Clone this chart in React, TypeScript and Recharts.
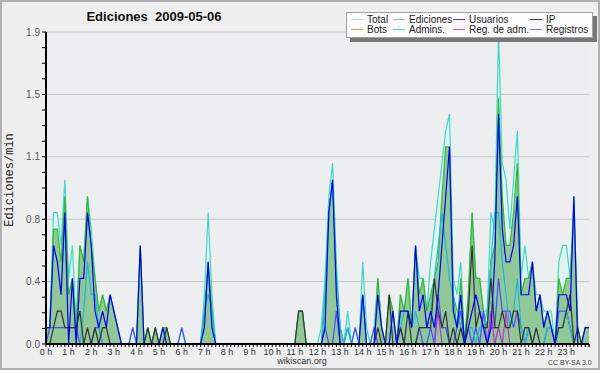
import React from 'react';
import { ComposedChart, Area, Line, XAxis, YAxis, CartesianGrid } from 'recharts';

// 10-minute bins, value = edits per minute
const TOTAL = [
  0.1, 0.1, 0.8, 0.8, 0.6, 1.0,
  0.4, 0.6, 0.1, 0.6, 0.5, 0.9,
  0.7, 0.4, 0.2, 0.3, 0.2, 0.3,
  0.2, 0.1, 0, 0, 0, 0.1,
  0, 0.6, 0, 0.1, 0, 0.1,
  0, 0.1, 0.1, 0, 0, 0,
  0.1, 0, 0, 0, 0, 0,
  0.3, 0.8, 0.3, 0, 0, 0,
  0, 0, 0, 0, 0, 0,
  0, 0, 0, 0, 0, 0,
  0, 0, 0, 0, 0, 0,
  0, 0.2, 0.2, 0, 0, 0,
  0, 0.1, 0.4, 0.9, 1.1, 0.5,
  0.1, 0, 0.2, 0, 0.1, 0,
  0.5, 0.1, 0, 0.1, 0.4, 0.1,
  0, 0.3, 0.2, 0, 0.3, 0.2,
  0.4, 0.1, 0.6, 0.4, 0.4, 0.2,
  0.5, 0.7, 0.9, 1.1, 1.3, 1.4,
  0.4, 0.3, 0.5, 0, 0.3, 0.8,
  0.4, 0.4, 0.2, 0.2, 0.8, 0.7,
  1.9, 1.1, 1.0, 0.7, 1.0, 1.3,
  0.4, 0.6, 0.4, 0.5, 0.3, 0.3,
  0.2, 0.2, 0.2, 0, 0.5, 0.6,
  0.6, 0.4, 0.9, 0.1, 0, 0.1,
  0.1,
];
const EDICIONES = [
  0.1, 0.1, 0.7, 0.7, 0.5, 0.9,
  0.3, 0.4, 0.1, 0.6, 0.5, 0.9,
  0.6, 0.4, 0.2, 0.3, 0.2, 0.3,
  0.2, 0.1, 0, 0, 0, 0,
  0, 0.6, 0, 0.1, 0, 0.1,
  0, 0.1, 0.1, 0, 0, 0,
  0, 0, 0, 0, 0, 0,
  0.2, 0.5, 0.2, 0, 0, 0,
  0, 0, 0, 0, 0, 0,
  0, 0, 0, 0, 0, 0,
  0, 0, 0, 0, 0, 0,
  0, 0.2, 0.2, 0, 0, 0,
  0, 0, 0.3, 0.8, 1.0, 0.4,
  0.1, 0, 0, 0, 0, 0,
  0.3, 0, 0, 0, 0.4, 0.1,
  0, 0.3, 0.2, 0, 0.3, 0.2,
  0.4, 0.1, 0.6, 0.3, 0.4, 0.2,
  0.3, 0.4, 0.5, 0.9, 1.2, 1.2,
  0.3, 0.1, 0.4, 0, 0.3, 0.8,
  0.4, 0.4, 0.2, 0.1, 0.5, 0.6,
  1.5, 0.9, 0.6, 0.6, 0.8, 1.1,
  0.3, 0.4, 0.4, 0.5, 0.2, 0.3,
  0.1, 0.2, 0.1, 0, 0.4, 0.3,
  0.4, 0.4, 0.8, 0.1, 0, 0.1,
  0.1,
];
const USUARIOS = [
  0.1, 0.1, 0.6, 0.5, 0.3, 0.8,
  0, 0.4, 0, 0.4, 0.4, 0.8,
  0.6, 0.2, 0.1, 0.2, 0.1, 0.3,
  0.2, 0.1, 0, 0, 0, 0,
  0, 0.6, 0, 0, 0, 0,
  0, 0.1, 0, 0, 0, 0,
  0, 0, 0, 0, 0, 0,
  0.1, 0.5, 0.1, 0, 0, 0,
  0, 0, 0, 0, 0, 0,
  0, 0, 0, 0, 0, 0,
  0, 0, 0, 0, 0, 0,
  0, 0, 0, 0, 0, 0,
  0, 0, 0.1, 0.8, 1.0, 0.3,
  0, 0, 0, 0, 0, 0,
  0.3, 0, 0, 0, 0.3, 0.1,
  0, 0, 0.2, 0, 0.2, 0.2,
  0.2, 0.1, 0.6, 0.2, 0.3, 0.1,
  0.2, 0.1, 0.3, 0.6, 0.9, 1.2,
  0.2, 0.1, 0.3, 0, 0.1, 0.2,
  0.3, 0.2, 0.1, 0, 0.1, 0.5,
  1.4, 0.7, 0.5, 0.5, 0.6, 0.9,
  0.3, 0.3, 0.3, 0.5, 0.2, 0.3,
  0.1, 0.2, 0.1, 0, 0.3, 0.3,
  0.3, 0.2, 0.9, 0, 0, 0.1,
  0.1,
];
const IP = [
  0, 0, 0.1, 0.2, 0.2, 0.1,
  0.1, 0.1, 0.1, 0.2, 0, 0.1,
  0, 0.1, 0, 0.1, 0.1, 0,
  0, 0, 0, 0, 0, 0,
  0, 0, 0, 0.1, 0, 0.1,
  0, 0, 0.1, 0, 0, 0,
  0, 0, 0, 0, 0, 0,
  0, 0, 0, 0, 0, 0,
  0, 0, 0, 0, 0, 0,
  0, 0, 0, 0, 0, 0,
  0, 0, 0, 0, 0, 0,
  0, 0.2, 0.2, 0, 0, 0,
  0, 0, 0, 0, 0, 0,
  0, 0, 0, 0, 0, 0,
  0, 0, 0, 0, 0.1, 0,
  0, 0.3, 0, 0, 0.1, 0,
  0.2, 0, 0, 0.1, 0.1, 0.1,
  0.1, 0.4, 0.2, 0.1, 0.2, 0,
  0.1, 0, 0.1, 0, 0.2, 0.6,
  0.1, 0.2, 0.1, 0.1, 0.4, 0.1,
  0.1, 0.2, 0.1, 0.1, 0.2, 0.2,
  0, 0.1, 0.1, 0, 0.1, 0,
  0, 0, 0, 0, 0.1, 0.1,
  0.2, 0.3, 0, 0.1, 0, 0,
  0,
];
const ADMINS = [
  0, 0, 0, 0, 0, 0,
  0, 0, 0, 0, 0.2, 0.5,
  0.3, 0.3, 0.1, 0, 0, 0,
  0, 0, 0, 0, 0, 0,
  0, 0, 0, 0, 0, 0,
  0, 0, 0, 0, 0, 0,
  0, 0, 0, 0, 0, 0,
  0.2, 0.3, 0.2, 0, 0, 0,
  0, 0, 0, 0, 0, 0,
  0, 0, 0, 0, 0, 0,
  0, 0, 0, 0, 0, 0,
  0, 0, 0, 0, 0, 0,
  0, 0, 0.3, 0.8, 1.0, 0.4,
  0.1, 0, 0.1, 0, 0, 0,
  0.3, 0, 0, 0, 0, 0,
  0, 0, 0, 0, 0.1, 0.2,
  0.2, 0.1, 0.2, 0.1, 0.1, 0.1,
  0.2, 0.4, 0.6, 0.8, 0.6, 0.4,
  0.3, 0.2, 0.1, 0, 0.1, 0.1,
  0, 0.1, 0.1, 0.2, 0.5, 0.8,
  0.8, 0.5, 0.3, 0.1, 0.2, 0.4,
  0.1, 0, 0.1, 0, 0, 0,
  0, 0.1, 0.1, 0, 0.1, 0.1,
  0.2, 0.1, 0, 0, 0, 0,
  0,
];
const REGISTROS = [
  0, 0.1, 0.1, 0.1, 0.1, 0.1,
  0.1, 0.1, 0.1, 0, 0, 0,
  0, 0.1, 0.1, 0, 0, 0,
  0, 0, 0, 0, 0, 0.1,
  0, 0, 0, 0, 0, 0,
  0, 0, 0, 0, 0, 0,
  0.1, 0, 0, 0, 0, 0,
  0, 0, 0, 0, 0, 0,
  0, 0, 0, 0, 0, 0,
  0, 0, 0, 0, 0, 0,
  0, 0, 0, 0, 0, 0,
  0, 0, 0, 0, 0, 0,
  0, 0, 0.1, 0, 0, 0.2,
  0, 0, 0.1, 0, 0.1, 0,
  0, 0, 0, 0.1, 0, 0,
  0, 0, 0, 0, 0.1, 0,
  0, 0, 0, 0.1, 0, 0,
  0.1, 0, 0.3, 0.1, 0.1, 0,
  0, 0.1, 0.2, 0, 0.1, 0,
  0.1, 0, 0.2, 0, 0.1, 0.1,
  0.4, 0.2, 0.2, 0.2, 0.1, 0.2,
  0.1, 0, 0.1, 0, 0, 0,
  0, 0.1, 0.1, 0, 0.2, 0.2,
  0.2, 0.1, 0, 0, 0, 0,
  0,
];
const REG_ADM = [
  0, 0, 0, 0, 0, 0,
  0, 0, 0, 0, 0, 0,
  0, 0, 0, 0, 0, 0,
  0, 0, 0, 0, 0, 0,
  0, 0, 0, 0, 0, 0,
  0, 0, 0, 0, 0, 0,
  0, 0, 0, 0, 0, 0,
  0, 0, 0, 0, 0, 0,
  0, 0, 0, 0, 0, 0,
  0, 0, 0, 0, 0, 0,
  0, 0, 0, 0, 0, 0,
  0, 0, 0, 0, 0, 0,
  0, 0, 0, 0, 0, 0,
  0, 0, 0, 0, 0, 0,
  0, 0, 0, 0, 0, 0,
  0, 0, 0, 0, 0, 0,
  0, 0, 0, 0, 0, 0,
  0, 0, 0.2, 0, 0, 0,
  0, 0, 0, 0, 0, 0,
  0, 0, 0, 0, 0.2, 0,
  0.1, 0, 0.2, 0, 0, 0,
  0, 0, 0, 0, 0, 0,
  0, 0, 0, 0, 0, 0,
  0, 0, 0, 0, 0, 0,
  0,
];

const HOUR_LABELS = [
  '0 h', '1 h', '2 h', '3 h', '4 h', '5 h', '6 h', '7 h', '8 h', '9 h', '10 h', '11 h',
  '12 h', '13 h', '14 h', '15 h', '16 h', '17 h', '18 h', '19 h', '20 h', '21 h', '22 h', '23 h',
];
const Y_MAX = 1.9;
const Y_STEP = 0.095;
const GRID_VALUES = [0.38, 0.76, 1.14, 1.52, 1.9];

const LEGEND = [
  { name: 'Total', color: '#aee8e0', col: 0, row: 0 },
  { name: 'Bots', color: '#f0a040', col: 0, row: 1 },
  { name: 'Ediciones', color: '#86d086', col: 1, row: 0 },
  { name: 'Admins.', color: '#50c8e0', col: 1, row: 1 },
  { name: 'Usuarios', color: '#4040e0', col: 2, row: 0 },
  { name: 'Reg. de adm.', color: '#d050e0', col: 2, row: 1 },
  { name: 'IP', color: '#404040', col: 3, row: 0 },
  { name: 'Registros', color: '#7878f0', col: 3, row: 1 },
];
const LEGEND_COLS = [4, 46, 106, 183];

const data = TOTAL.map((t, i) => ({
  i,
  total: t,
  ediciones: EDICIONES[i],
  usuarios: USUARIOS[i],
  ip: IP[i],
  admins: ADMINS[i],
  registros: REGISTROS[i],
  regadm: REG_ADM[i],
}));

const xTicks = TOTAL.map((_, i) => i);
const yTicks = Array.from({ length: 21 }, (_, k) => Math.round(k * Y_STEP * 1000) / 1000);

const FONT = '"Liberation Sans", Arial, sans-serif';

export default function App() {
  return (
    <div
      style={{
        position: 'absolute',
        left: 0,
        top: 0,
        width: 600,
        height: 370,
        boxSizing: 'border-box',
        border: '2px solid #b0b0b0',
        background: '#efefef',
        fontFamily: FONT,
      }}
    >
      <div style={{ position: 'absolute', left: -2, top: -2 }}>
        <ComposedChart
          width={600}
          height={370}
          data={data}
          margin={{ top: 32, right: 11, left: 0, bottom: 0 }}
        >
          <CartesianGrid
            fill="#eceef0"
            stroke="#c8c8c8"
            vertical={false}
            horizontalValues={GRID_VALUES}
          />
          <Area
            type="linear"
            dataKey="total"
            stroke="#3fd8c8"
            strokeWidth={1.2}
            fill="#dff4f0"
            fillOpacity={1}
            dot={false}
            activeDot={false}
            isAnimationActive={false}
          />
          <Area
            type="linear"
            dataKey="ediciones"
            stroke="#33b833"
            strokeWidth={1.2}
            fill="#90c898"
            fillOpacity={1}
            dot={false}
            activeDot={false}
            isAnimationActive={false}
          />
          <Line type="linear" dataKey="registros" stroke="#4a4aff" strokeWidth={1.2} dot={false} activeDot={false} isAnimationActive={false} />
          <Line type="linear" dataKey="regadm" stroke="#c030d0" strokeWidth={1.2} dot={false} activeDot={false} isAnimationActive={false} />
          <Line type="linear" dataKey="admins" stroke="#20b8d8" strokeWidth={1.2} dot={false} activeDot={false} isAnimationActive={false} />
          <Line type="linear" dataKey="ip" stroke="#333333" strokeWidth={1.2} dot={false} activeDot={false} isAnimationActive={false} />
          <Line type="linear" dataKey="usuarios" stroke="#0000ee" strokeWidth={1.2} dot={false} activeDot={false} isAnimationActive={false} />
          <XAxis
            dataKey="i"
            type="number"
            domain={[0, 144]}
            ticks={xTicks.concat([144])}
            interval={0}
            height={26}
            tickSize={3}
            axisLine={{ stroke: '#000', strokeWidth: 2 }}
            tickLine={{ stroke: '#000' }}
            tick={{ fontSize: 9, fill: '#333', fontFamily: FONT }}
            tickFormatter={(v: number) => (v % 6 === 0 && v < 144 ? HOUR_LABELS[v / 6] : '')}
          />
          <YAxis
            type="number"
            domain={[0, Y_MAX]}
            ticks={yTicks}
            interval={0}
            width={46}
            tickSize={4}
            axisLine={{ stroke: '#000', strokeWidth: 2 }}
            tickLine={{ stroke: '#000' }}
            tick={{ fontSize: 10, fill: '#555', fontFamily: FONT }}
            tickFormatter={(v: number, idx: number) => (idx % 4 === 0 ? v.toFixed(1) : '')}
          />
        </ComposedChart>
      </div>

      <div
        style={{
          position: 'absolute',
          left: 52,
          top: 7,
          width: 200,
          textAlign: 'center',
          fontWeight: 'bold',
          fontSize: 13,
          color: '#111',
          whiteSpace: 'pre',
        }}
      >
        {'Ediciones  2009-05-06'}
      </div>

      <div
        style={{
          position: 'absolute',
          left: 8,
          top: 178,
          transform: 'translate(-50%, -50%) rotate(-90deg)',
          fontFamily: '"Liberation Mono", monospace',
          fontSize: 12,
          color: '#222',
          whiteSpace: 'nowrap',
        }}
      >
        Ediciones/min
      </div>

      <div
        style={{
          position: 'absolute',
          left: 344,
          top: 10,
          width: 247,
          height: 26,
          boxSizing: 'border-box',
          background: '#fcfcfc',
          border: '1px solid #a0a0a0',
          boxShadow: '4px 4px 0 #777',
          fontSize: 10,
          color: '#222',
        }}
      >
        {LEGEND.map((e) => (
          <div
            key={e.name}
            style={{
              position: 'absolute',
              left: LEGEND_COLS[e.col],
              top: e.row === 0 ? 1 : 11,
              height: 11,
              display: 'flex',
              alignItems: 'center',
              whiteSpace: 'nowrap',
              lineHeight: '11px',
            }}
          >
            <span style={{ display: 'inline-block', width: 12, height: 1.5, background: e.color, marginRight: 4 }} />
            <span>{e.name}</span>
          </div>
        ))}
      </div>

      <div
        style={{
          position: 'absolute',
          left: 250,
          top: 354,
          width: 100,
          textAlign: 'center',
          fontSize: 9,
          color: '#333',
        }}
      >
        wikiscan.org
      </div>
      <div
        style={{
          position: 'absolute',
          left: 546,
          top: 357,
          fontSize: 7,
          color: '#444',
          whiteSpace: 'nowrap',
        }}
      >
        CC BY-SA 3.0
      </div>
    </div>
  );
}
